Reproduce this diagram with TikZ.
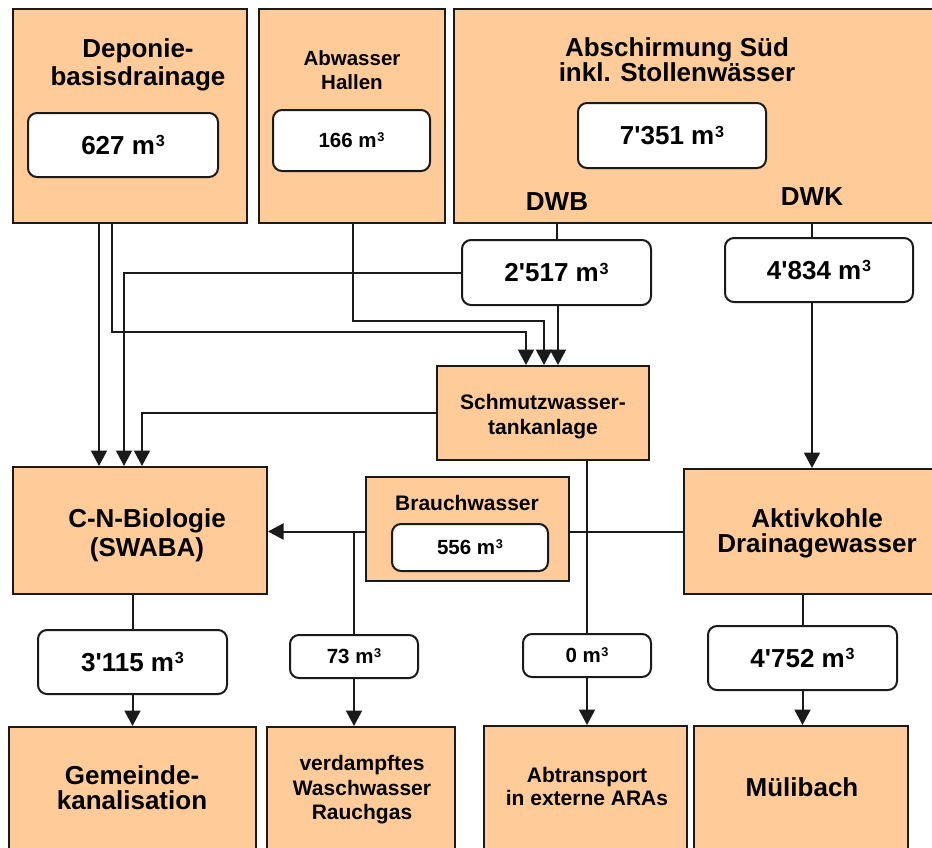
\documentclass[tikz,border=0pt]{standalone}
\usepackage{fontspec}
\newfontfamily\lsb{Liberation Sans}
\usetikzlibrary{arrows.meta}
\definecolor{peach}{HTML}{FFCC99}
\definecolor{ink}{HTML}{1A1A1A}
\tikzset{
  box/.style={draw=ink, line width=2pt, fill=peach, inner sep=0pt},
  valbox/.style={draw=ink, line width=2pt, fill=white, rounded corners=9pt, inner sep=0pt, align=center},
  big/.style={font=\lsb\bfseries\fontsize{26}{28}\selectfont, align=center, inner sep=0pt},
  small/.style={font=\lsb\bfseries\fontsize{20.5}{24}\selectfont, align=center, inner sep=0pt},
  con/.style={line width=2pt, draw=ink},
  arr/.style={con, -{Triangle[length=15.5pt,width=16pt]}},
}
\newcommand{\mcube}{m\kern0.03em\raisebox{0.3em}{\scalebox{0.62}{3}}}
\begin{document}
\begin{tikzpicture}[x=1pt,y=-1pt]
\useasboundingbox (0,0) rectangle (932,847);
\fill[white] (0,0) rectangle (932,847);
\clip (0,0) rectangle (932,847);
% outer boxes
\node[box, minimum width=234pt, minimum height=214pt] (dep) at (130,116) {};
\node[box, minimum width=186pt, minimum height=214pt] (abw) at (352,116) {};
\node[box, minimum width=491pt, minimum height=214pt] (abs) at (699.5,116) {};
\node[box, minimum width=212pt, minimum height=94pt] (schm) at (543,413) {};
\node[box, minimum width=254pt, minimum height=127pt] (cn) at (140,530.5) {};
\node[box, minimum width=203pt, minimum height=104pt] (brauch) at (467.5,529) {};
\node[box, minimum width=261pt, minimum height=125pt] (aktiv) at (814.5,531.5) {};
\node[box, minimum width=247pt, minimum height=133pt] (gem) at (132.5,793.5) {};
\node[box, minimum width=188pt, minimum height=133pt] (verd) at (361,793.5) {};
\node[box, minimum width=203pt, minimum height=134pt] (abt) at (585.5,793) {};
\node[box, minimum width=214pt, minimum height=134pt] (mul) at (801,793) {};
% value boxes
\node[valbox, big, minimum width=190pt, minimum height=64pt] (vdep) at (123,145) {627 \mcube};
\node[valbox, small, minimum width=157pt, minimum height=61pt] (vabw) at (351.5,140.5) {166 \mcube};
\node[valbox, big, minimum width=188pt, minimum height=65pt] (vabs) at (672,135.5) {7'351 \mcube};
\node[valbox, big, minimum width=189pt, minimum height=65pt] (vdwb) at (556.5,272.5) {2'517 \mcube};
\node[valbox, big, minimum width=188pt, minimum height=64pt] (vdwk) at (819,270) {4'834 \mcube};
\node[valbox, small, minimum width=156pt, minimum height=47pt] (vbr) at (470,547.5) {556 \mcube};
\node[valbox, big, minimum width=189pt, minimum height=64pt] (vcn) at (132.5,662) {3'115 \mcube};
\node[valbox, small, minimum width=128pt, minimum height=43pt] (vver) at (354,656.5) {73 \mcube};
\node[valbox, small, minimum width=128pt, minimum height=43pt] (vabt) at (587,655.5) {0 \mcube};
\node[valbox, big, minimum width=189pt, minimum height=64pt] (vmul) at (802.5,658) {4'752 \mcube};
% titles
\node[big] (tdep) at (138,65) {Deponie-\\basisdrainage};
\node[small] (tabw) at (352,70) {Abwasser\\Hallen};
\node[big, font=\lsb\bfseries\fontsize{26}{25}\selectfont] (tabs) at (677,59.5) {Abschirmung Süd\\inkl. Stollenwässer};
\node[big] (tdwb) at (557,202) {DWB};
\node[big] (tdwk) at (812,197) {DWK};
\node[small, font=\lsb\bfseries\fontsize{21}{25}\selectfont] (tschm) at (543,417) {Schmutzwasser-\\tankanlage};
\node[big, font=\lsb\bfseries\fontsize{26}{29}\selectfont] (tcn) at (147,535) {C-N-Biologie\\(SWABA)};
\node[small, font=\lsb\bfseries\fontsize{21}{25}\selectfont] (tbr) at (467,503) {Brauchwasser};
\node[big, font=\lsb\bfseries\fontsize{26}{25}\selectfont] (takt) at (817,533.5) {Aktivkohle\\Drainagewasser};
\node[big, font=\lsb\bfseries\fontsize{26}{25}\selectfont] (tgem) at (132,787.5) {Gemeinde-\\kanalisation};
\node[small, font=\lsb\bfseries\fontsize{21}{24.5}\selectfont] (tver) at (362,790) {verdampftes\\Waschwasser\\Rauchgas};
\node[small, font=\lsb\bfseries\fontsize{21}{23}\selectfont] (tabt) at (587,786.5) {Abtransport\\in externe ARAs};
\node[big] (tmul) at (802,787) {Mülibach};
% connectors
\draw[arr] ([xshift=-31pt]dep.south) -- ([xshift=-41pt]cn.north);
\draw[arr] ([xshift=-18pt]dep.south) -- ++(0,108) -| ([xshift=-17pt]schm.north);
\draw[arr] ([xshift=1pt]abw.south) -- ++(0,97) -| ([xshift=1pt]schm.north);
\draw[con] (vdwb.north |- abs.south) -- (vdwb.north);
\draw[arr] ([xshift=1.5pt]vdwb.south) -- ([xshift=15pt]schm.north |- vdwb.south) -- ([xshift=15pt]schm.north);
\draw[arr] (vdwb.west) -| ([xshift=-16pt]cn.north);
\draw[arr] (schm.west) -| ([xshift=2pt]cn.north);
\draw[con] ([xshift=-7pt]vdwk.north |- abs.south) -- ([xshift=-7pt]vdwk.north);
\draw[arr] ([xshift=-7pt]vdwk.south) -- ([xshift=-2.5pt]aktiv.north);
\draw[con] (aktiv.west) -- (aktiv.west -| brauch.east);
\draw[arr] (brauch.west |- aktiv.west) -- (cn.east |- aktiv.west);
\draw[con] (vver.north |- aktiv.west) -- (vver.north);
\draw[arr] (vver.south) -- (vver.south |- verd.north);
\draw[con] (vabt.north |- schm.south) -- (vabt.north);
\draw[arr] (vabt.south) -- (vabt.south |- abt.north);
\draw[con] (vmul.north |- aktiv.south) -- (vmul.north);
\draw[arr] (vmul.south) -- (vmul.south |- mul.north);
\draw[con] (vcn.north |- cn.south) -- (vcn.north);
\draw[arr] (vcn.south) -- (vcn.south |- gem.north);
\end{tikzpicture}
\end{document}
